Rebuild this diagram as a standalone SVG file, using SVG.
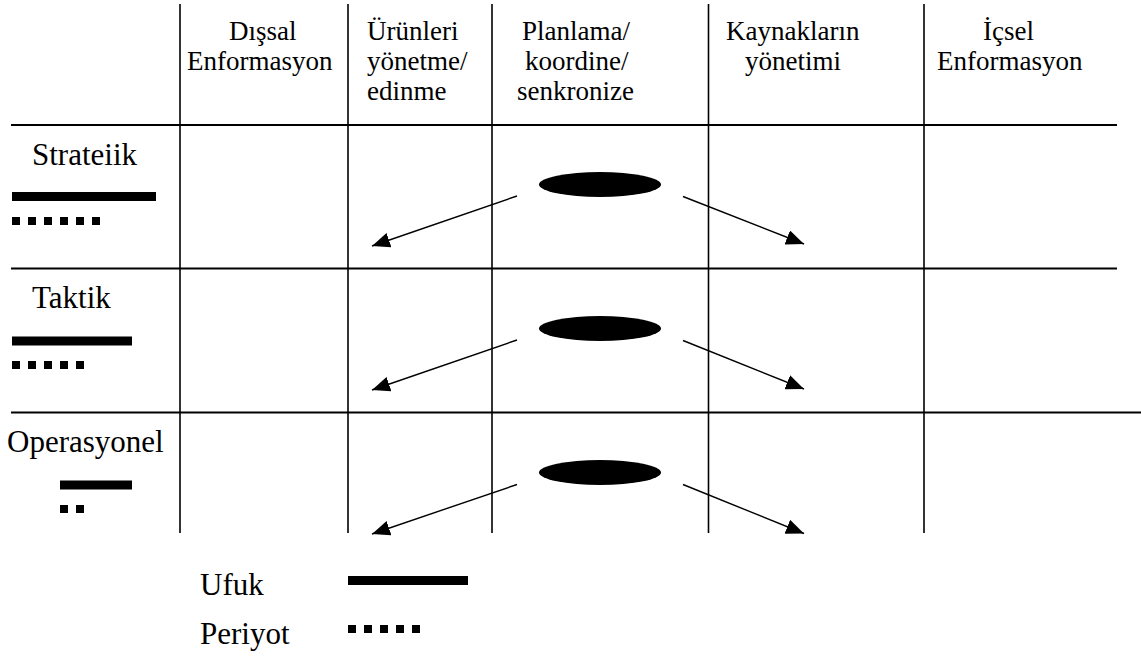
<svg xmlns="http://www.w3.org/2000/svg" width="1141" height="657" viewBox="0 0 1141 657">
  <style>
    text { font-family: "Liberation Serif", "Times New Roman", serif; fill: #000; }
    .hdr { font-size: 27px; }
    .lbl { font-size: 31px; }
    .grid-h { stroke: #000; stroke-width: 2.2; }
    .grid-v { stroke: #000; stroke-width: 1.6; }
    .ufuk { stroke: #000; stroke-width: 9; }
    .periyot { stroke: #000; stroke-width: 8; stroke-dasharray: 8 8; }
    .flow { stroke: #000; stroke-width: 1.4; fill: none; marker-end: url(#head); }
    .hub { fill: #000; }
  </style>
  <defs>
    <marker id="head" markerUnits="userSpaceOnUse" markerWidth="19" markerHeight="15" refX="18" refY="7.5" orient="auto">
      <path d="M0,0 L18,7.5 L0,15 Z" fill="#000"/>
    </marker>
  </defs>

  <rect width="1141" height="657" fill="#fff"/>

  <!-- table grid -->
  <g id="grid">
    <line class="grid-v" x1="180" y1="4" x2="180" y2="533"/>
    <line class="grid-v" x1="348" y1="4" x2="348" y2="533"/>
    <line class="grid-v" x1="492" y1="4" x2="492" y2="533"/>
    <line class="grid-v" x1="708.5" y1="4" x2="708.5" y2="533"/>
    <line class="grid-v" x1="924" y1="4" x2="924" y2="533"/>
    <line class="grid-h" x1="11" y1="125" x2="1117" y2="125"/>
    <line class="grid-h" x1="11" y1="268.5" x2="1117" y2="268.5"/>
    <line class="grid-h" x1="11" y1="412.5" x2="1141" y2="412.5"/>
  </g>

  <!-- column headers -->
  <g id="col-dissal">
    <text class="hdr" x="229" y="40">Dışsal</text>
    <text class="hdr" x="187" y="70">Enformasyon</text>
  </g>
  <g id="col-urunler">
    <text class="hdr" x="367" y="40">Ürünleri</text>
    <text class="hdr" x="367" y="70">yönetme/</text>
    <text class="hdr" x="367" y="100">edinme</text>
  </g>
  <g id="col-planlama">
    <text class="hdr" x="522" y="40">Planlama/</text>
    <text class="hdr" x="525" y="70">koordine/</text>
    <text class="hdr" x="517" y="100">senkronize</text>
  </g>
  <g id="col-kaynak">
    <text class="hdr" x="726" y="40">Kaynakların</text>
    <text class="hdr" x="745" y="70">yönetimi</text>
  </g>
  <g id="col-icsel">
    <text class="hdr" x="983" y="40">İçsel</text>
    <text class="hdr" x="937" y="70">Enformasyon</text>
  </g>

  <!-- row labels with horizon / period bars -->
  <g id="row-strateiik">
    <text class="lbl" x="32" y="165">Strateiik</text>
    <line class="ufuk" x1="12" y1="196.5" x2="156" y2="196.5"/>
    <line class="periyot" x1="12" y1="221" x2="100" y2="221"/>
  </g>
  <g id="row-taktik">
    <text class="lbl" x="32" y="308">Taktik</text>
    <line class="ufuk" x1="12" y1="341" x2="132" y2="341"/>
    <line class="periyot" x1="12" y1="365" x2="84" y2="365"/>
  </g>
  <g id="row-operasyonel">
    <text class="lbl" x="7" y="452">Operasyonel</text>
    <line class="ufuk" x1="60" y1="485" x2="132" y2="485"/>
    <line class="periyot" x1="60" y1="509" x2="84" y2="509"/>
  </g>

  <!-- planning hubs -->
  <g id="hub-1"><ellipse class="hub" cx="600" cy="184.5" rx="61" ry="12.5"/></g>
  <g id="hub-2"><ellipse class="hub" cx="600" cy="328.5" rx="61" ry="12.5"/></g>
  <g id="hub-3"><ellipse class="hub" cx="600" cy="472.5" rx="61" ry="12.5"/></g>

  <!-- flows from planning to products and resources -->
  <g id="connectors">
    <line class="flow" x1="517" y1="196" x2="372" y2="246"/>
    <line class="flow" x1="683" y1="196.5" x2="804" y2="244"/>
    <line class="flow" x1="517" y1="340" x2="372" y2="390"/>
    <line class="flow" x1="683" y1="340.5" x2="804" y2="389"/>
    <line class="flow" x1="517" y1="484.5" x2="372" y2="534"/>
    <line class="flow" x1="683" y1="484.5" x2="804" y2="533.5"/>
  </g>

  <!-- legend -->
  <g id="legend">
    <text class="lbl" x="200" y="595">Ufuk</text>
    <line class="ufuk" x1="348" y1="580.5" x2="468" y2="580.5"/>
    <text class="lbl" x="200" y="644">Periyot</text>
    <line class="periyot" x1="348" y1="629" x2="420" y2="629"/>
  </g>
</svg>
